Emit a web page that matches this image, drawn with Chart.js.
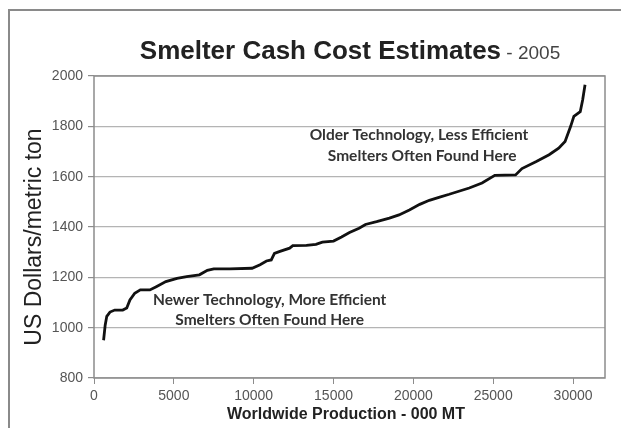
<!DOCTYPE html>
<html lang="en">
<head>
    <meta charset="UTF-8">
    <title>Smelter Cash Cost Estimates</title>
    <script src="https://cdn.jsdelivr.net/npm/chart.js"></script>
    <style>
        html, body {
            margin: 0;
            padding: 0;
            width: 621px;
            height: 428px;
            overflow: hidden;
            background: #fff;
        }
        .frame {
            position: absolute;
            left: 8px;
            top: 9px;
            width: 650px;
            height: 450px;
            border-top: 2px solid #8a8a8a;
            border-left: 2px solid #8a8a8a;
        }
        .wrap {
            position: absolute;
            left: 0;
            top: 0;
            width: 621px;
            height: 428px;
        }
    </style>
</head>
<body>
    <div class="frame"></div>
    <div class="wrap"><canvas id="costChart" width="621" height="428"></canvas></div>

    <script>
        // production (000 MT, cumulative) and cash cost (US$/t)
        const production = [600, 700, 800, 1000, 1300, 1800, 2050, 2250, 2550, 2900, 3500, 3900, 4500, 5200, 5800, 6600, 7100, 7500, 8500, 9900,
            10400, 10800, 11100, 11300, 11600, 12250, 12450, 13300, 13900, 14300, 15000, 15500, 16000, 16600, 17000, 17700, 18500, 19100, 19750,
            20400, 21000, 21600, 22250, 22900, 23500, 24300, 25100, 26400, 26800, 27700, 28500, 29100, 29500, 29850, 30050, 30450, 30600, 30750];
        const cashCost = [950, 1010, 1045, 1062, 1070, 1070, 1078, 1110, 1137, 1150, 1150, 1163, 1183, 1196, 1203, 1210, 1228, 1234, 1234, 1236,
            1250, 1265, 1269, 1295, 1302, 1316, 1326, 1327, 1331, 1340, 1344, 1360, 1378, 1395, 1410, 1421, 1435, 1448, 1468,
            1490, 1506, 1518, 1530, 1543, 1555, 1575, 1605, 1607, 1632, 1660, 1687, 1713, 1740, 1800, 1840, 1858, 1905, 1965];

        const xTicks = [0, 5000, 10000, 15000, 20000, 25000, 30000];
        const yTicks = [800, 1000, 1200, 1400, 1600, 1800, 2000];

        const newerNote = ["Newer Technology, More Efficient", "Smelters Often Found Here"];
        const olderNote = ["Older Technology, Less Efficient", "Smelters Often Found Here"];

        const points = production.map((p, i) => ({ x: p, y: cashCost[i] }));

        const textPlugin = {
            id: 'texts',
            afterDraw(chart) {
                const ctx = chart.ctx;
                const a = chart.chartArea;
                const xs = chart.scales.x;
                const ys = chart.scales.y;
                ctx.save();

                // plot border
                ctx.strokeStyle = '#8c8c8c';
                ctx.lineWidth = 1.5;
                ctx.strokeRect(a.left, a.top, a.right - a.left, a.bottom - a.top);

                // title in two parts
                ctx.textBaseline = 'alphabetic';
                ctx.textAlign = 'left';
                const main = 'Smelter Cash Cost Estimates';
                const sub = ' - 2005';
                ctx.font = 'bold 26px "Liberation Sans", Arial';
                const w1 = ctx.measureText(main).width;
                ctx.font = '19px "Liberation Sans", Arial';
                const w2 = ctx.measureText(sub).width;
                const start = 350 - (w1 + w2) / 2;
                ctx.fillStyle = '#222';
                ctx.font = 'bold 26px "Liberation Sans", Arial';
                ctx.fillText(main, start, 59);
                ctx.fillStyle = '#444';
                ctx.font = '19px "Liberation Sans", Arial';
                ctx.fillText(sub, start + w1, 59);

                // axis titles
                ctx.fillStyle = '#222';
                ctx.textAlign = 'center';
                ctx.textBaseline = 'middle';
                ctx.font = 'bold 16px "Liberation Sans", Arial';
                ctx.fillText('Worldwide Production - 000 MT', 346, 415);

                ctx.save();
                ctx.translate(35, 237);
                ctx.rotate(-Math.PI / 2);
                ctx.font = '23px "Liberation Sans", Arial';
                ctx.fillText('US Dollars/metric ton', 0, 0);
                ctx.restore();

                // notes
                ctx.fillStyle = '#333';
                ctx.font = 'bold 15.5px Lato, "Open Sans", sans-serif';
                ctx.fillText(newerNote[0], xs.getPixelForValue(11000), ys.getPixelForValue(1110));
                ctx.fillText(newerNote[1], xs.getPixelForValue(11000), ys.getPixelForValue(1030));
                ctx.fillText(olderNote[0], xs.getPixelForValue(20350), ys.getPixelForValue(1766));
                ctx.fillText(olderNote[1], xs.getPixelForValue(20550), ys.getPixelForValue(1683));

                ctx.restore();
            }
        };

        new Chart(document.getElementById('costChart'), {
            type: 'line',
            data: {
                datasets: [{
                    data: points,
                    borderColor: '#111',
                    borderWidth: 2.8,
                    pointRadius: 0,
                    tension: 0,
                    fill: false
                }]
            },
            options: {
                responsive: false,
                animation: false,
                layout: { padding: { top: 76, right: 16, left: 0, bottom: 0 } },
                plugins: {
                    legend: { display: false },
                    tooltip: { enabled: false }
                },
                scales: {
                    x: {
                        type: 'linear',
                        min: 0,
                        max: 32000,
                        afterFit(scale) { scale.height = 50; },
                        afterBuildTicks(scale) { scale.ticks = xTicks.map(v => ({ value: v })); },
                        grid: { display: true, drawOnChartArea: false, drawTicks: true, tickLength: 6, color: '#8c8c8c' },
                        border: { display: false },
                        ticks: {
                            color: '#555',
                            font: { family: '"Liberation Sans", Arial', size: 14 },
                            padding: 4,
                            maxRotation: 0,
                            callback: v => String(v)
                        }
                    },
                    y: {
                        min: 800,
                        max: 2000,
                        afterFit(scale) { scale.width = 94; },
                        afterBuildTicks(scale) { scale.ticks = yTicks.map(v => ({ value: v })); },
                        grid: { color: '#b4b4b4', lineWidth: 1.2, tickLength: 6, tickColor: '#8c8c8c' },
                        border: { display: false },
                        ticks: {
                            color: '#555',
                            font: { family: '"Liberation Sans", Arial', size: 14 },
                            padding: 5,
                            callback: v => String(v)
                        }
                    }
                }
            },
            plugins: [textPlugin]
        });
    </script>
</body>
</html>
